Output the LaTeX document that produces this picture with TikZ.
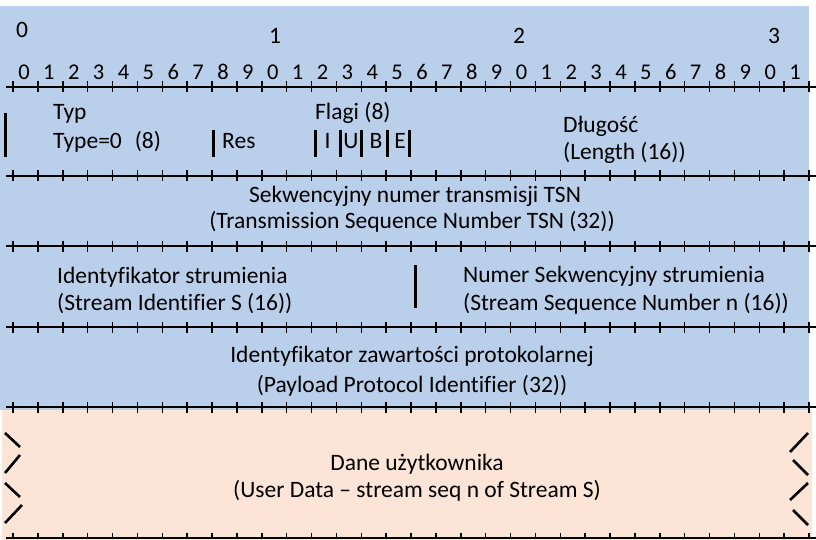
\documentclass[tikz,border=0pt]{standalone}
\usepackage{fontspec}
\setmainfont[Ligatures=NoCommon]{Carlito}
\definecolor{bgblue}{HTML}{B9CFEA}
\definecolor{bgpeach}{HTML}{FCE4D6}
\begin{document}
\begin{tikzpicture}[x=1pt,y=-1pt,
  lbl/.style={inner sep=0pt, font=\fontsize{23.5}{28}\selectfont, anchor=base west},
  lblc/.style={lbl, anchor=base},
  digit/.style={inner sep=0pt, font=\fontsize{22.5}{26}\selectfont, anchor=base},
  rule/.style={line width=2.2pt},
  tickmark/.style={line width=1.5pt},
  bar/.style={line width=3pt},
  zig/.style={line width=2.6pt}]
\useasboundingbox (0,0) rectangle (816,540);
\fill[bgblue] (0,6) rectangle (809,410);
\fill[bgpeach] (2,410) rectangle (812,540);
% ruler lines with ticks
\foreach \y in {87,176,246,327,407}{
  \draw[rule] (6,\y) -- (816,\y);
  \foreach \i in {0,...,32}
    \draw[tickmark] (13+24.875*\i,\y-5.5) -- ++(0,11);
}
\draw[rule] (6,538) -- (816,538);
\foreach \i in {0,...,32}
  \draw[tickmark] (13+24.875*\i,533) -- ++(0,5);
% top word labels
\node[lblc] (w0) at (22,38) {0};
\node[lblc] (w1) at (275,44) {1};
\node[lblc] (w2) at (519,44) {2};
\node[lblc] (w3) at (774,44) {3};
% bit digits
\foreach \i [evaluate=\i as \d using {int(mod(\i,10))}] in {0,...,31}
  \node[digit] (d\i) at (13+24.875*\i+11,80) {\d};
% row 1
\draw[bar] (5,113) -- (5,157);
\node[lbl] (typ) at (53,120) {Typ};
\node[lbl] (type) at (53,149) {Type=0\hspace{13pt}(8)};
\draw[bar] (213,130) -- (213,157);
\node[lbl] (res) at (222,149) {Res};
\node[lbl] (flagi) at (315,120) {Flagi (8)};
\foreach \x in {315,340,361,387,409}
  \draw[bar] (\x,130) -- (\x,157);
\node[lblc] (fi) at (327.5,149) {I};
\node[lblc] (fu) at (351,149) {U};
\node[lblc] (fb) at (376,149) {B};
\node[lblc] (fe) at (400,149) {E};
\node[lbl] (dl) at (563,133) {Długość};
\node[lbl] (len) at (563,160) {(Length (16))};
% row 2
\node[lblc] (tsn1) at (415,203) {Sekwencyjny numer transmisji TSN};
\node[lblc] (tsn2) at (412,229) {(Transmission Sequence Number TSN (32))};
% row 3
\node[lbl] (sid1) at (57,283) {Identyfikator strumienia};
\node[lbl] (sid2) at (57,310) {(Stream Identifier S (16))};
\draw[bar] (415,265) -- (415,308);
\node[lbl] (ssn1) at (463,282) {Numer Sekwencyjny strumienia};
\node[lbl] (ssn2) at (463,310) {(Stream Sequence Number n (16))};
% row 4
\node[lblc] (ppi1) at (412,362) {Identyfikator zawartości protokolarnej};
\node[lblc] (ppi2) at (412,392) {(Payload Protocol Identifier (32))};
% row 5
\node[lblc] (ud1) at (417,470) {Dane użytkownika};
\node[lblc] (ud2) at (417,497) {(User Data – stream seq n of Stream S)};
% zigzags
\draw[zig] (5,433) -- (20,447);
\draw[zig] (20,455) -- (5,473);
\draw[zig] (5,483) -- (20,497);
\draw[zig] (22,505) -- (5,523);
\draw[zig] (808,433) -- (790,452);
\draw[zig] (793,460) -- (808,475);
\draw[zig] (808,483) -- (790,500);
\draw[zig] (793,510) -- (808,525);
\end{tikzpicture}
\end{document}
